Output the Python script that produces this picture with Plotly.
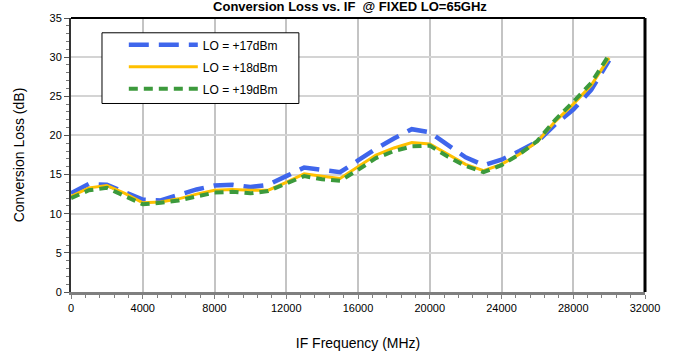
import plotly.graph_objects as go

if_mhz = [0, 1000, 2000, 3000, 4000, 5000, 6000, 7000, 8000, 9000, 10000,
          11000, 12000, 13000, 14000, 15000, 16000, 17000, 18000, 19000, 20000,
          21000, 22000, 23000, 24000, 25000, 26000, 27000, 28000, 29000, 30000]

lo17 = [12.6, 13.8, 13.7, 12.8, 11.8, 11.7, 12.4, 13.1, 13.6, 13.7, 13.4,
        13.7, 14.8, 15.9, 15.6, 15.3, 16.8, 18.3, 19.6, 20.8, 20.4,
        18.8, 17.2, 16.2, 16.9, 18.0, 19.2, 21.4, 23.3, 25.8, 29.6]

lo18 = [12.2, 13.3, 13.6, 12.6, 11.4, 11.5, 11.9, 12.5, 13.0, 13.1, 13.0,
        13.0, 14.0, 15.1, 14.8, 14.5, 16.0, 17.5, 18.4, 19.1, 18.9,
        17.6, 16.3, 15.5, 16.3, 17.6, 19.2, 21.8, 24.0, 26.4, 29.9]

lo19 = [12.0, 13.0, 13.3, 12.3, 11.2, 11.4, 11.7, 12.2, 12.7, 12.8, 12.6,
        12.9, 13.8, 14.8, 14.4, 14.2, 15.6, 17.1, 18.0, 18.6, 18.7,
        17.3, 16.1, 15.3, 16.2, 17.6, 19.3, 22.0, 24.3, 26.7, 30.3]

names = ["LO = +17dBm", "LO = +18dBm", "LO = +19dBm"]
x_ticks = [0, 4000, 8000, 12000, 16000, 20000, 24000, 28000, 32000]
y_ticks = [0, 5, 10, 15, 20, 25, 30, 35]

FONT = "Arial, Liberation Sans, sans-serif"

fig = go.Figure()
fig.add_trace(go.Scatter(x=if_mhz, y=lo17, name=names[0], mode="lines", legendgroup="a",
                         line=dict(color="#3F66EC", width=4.5, dash="20px,10px")))
fig.add_trace(go.Scatter(x=if_mhz, y=lo18, name=names[1], mode="lines", legendgroup="b",
                         line=dict(color="#FFC000", width=3)))
fig.add_trace(go.Scatter(x=if_mhz, y=lo19, name=names[2], mode="lines", legendgroup="c",
                         line=dict(color="#3C9A3C", width=4, dash="9px,6px")))

fig.update_layout(
    width=673, height=354,
    margin=dict(l=71, r=28, t=18, b=62, autoexpand=False),
    paper_bgcolor="white", plot_bgcolor="white",
    font=dict(family=FONT, color="#000000", size=11),
    title=dict(text="<b>Conversion Loss vs. IF  @ FIXED LO=65GHz</b>",
               x=0.486, xref="paper", xanchor="center",
               y=1.0, yref="container", yanchor="top", pad=dict(t=2, b=0),
               font=dict(size=13, family=FONT, color="#000000")),
    legend=dict(x=0.092, y=0.955, xanchor="left", yanchor="top",
                bgcolor="rgba(0,0,0,0)", borderwidth=0,
                font=dict(size=12, family=FONT), itemwidth=69,
                tracegroupgap=3, traceorder="grouped"),
    showlegend=True,
)

fig.update_xaxes(
    range=[0, 32000], tickvals=x_ticks, ticktext=[str(v) for v in x_ticks],
    showgrid=True, gridcolor="#C4C4C4", gridwidth=2,
    showline=True, linecolor="#7F7F7F", linewidth=3,
    ticks="outside", ticklen=4, tickcolor="#7F7F7F", tickwidth=1,
    minor=dict(dtick=800, ticks="outside", ticklen=3, tickcolor="#7F7F7F", showgrid=False),
    zeroline=False, tickfont=dict(size=11), automargin=False,
    title=dict(text="IF Frequency (MHz)", font=dict(size=14), standoff=25),
)
fig.update_yaxes(
    range=[0, 35], tickvals=y_ticks, ticktext=[str(v) for v in y_ticks],
    showgrid=True, gridcolor="#D4D4D4", gridwidth=1.5,
    showline=True, linecolor="#333333", linewidth=2,
    ticks="outside", ticklen=5, tickcolor="#555555", tickwidth=1,
    minor=dict(dtick=1, ticks="outside", ticklen=3, tickcolor="#777777", showgrid=False),
    zeroline=False, tickfont=dict(size=11), automargin=False,
    title=dict(text="Conversion Loss (dB)", font=dict(size=14), standoff=22),
)

# Plot frame (top and right borders)
fig.add_shape(type="line", xref="paper", yref="paper", x0=0, x1=1, y0=1, y1=1,
              line=dict(color="#000000", width=2), layer="above")
fig.add_shape(type="line", xref="paper", yref="paper", x0=1, x1=1, y0=0, y1=1,
              line=dict(color="#000000", width=3), layer="above")
# Legend box
fig.add_shape(type="rect", xref="paper", yref="paper", x0=0.054, x1=0.397,
              y0=0.688, y1=0.946, fillcolor="white",
              line=dict(color="#000000", width=1), layer="above")

fig.write_html("out.html")
